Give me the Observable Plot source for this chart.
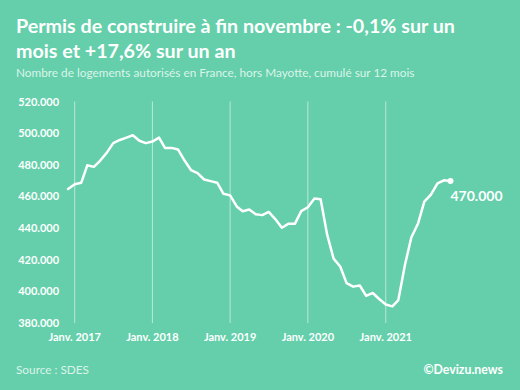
<!DOCTYPE html>
<html>
<head>
<meta charset="utf-8">
<script src="https://cdn.jsdelivr.net/npm/d3@7"></script>
<script src="https://cdn.jsdelivr.net/npm/@observablehq/plot@0.6"></script>
<style>
  html, body { margin: 0; padding: 0; background: #64CFAA; }
  #card { position: relative; width: 520px; height: 390px; background: #64CFAA; overflow: hidden;
          font-family: Lato, "Noto Sans", sans-serif; color: #fff; }
  #title { position: absolute; left: 16px; top: 13px; font-size: 19.7px; font-weight: 700; line-height: 25px; white-space: nowrap; }
  #subtitle { position: absolute; left: 16px; top: 65px; font-size: 11.8px; font-weight: 400; color: rgba(255,255,255,0.78); white-space: nowrap; }
  #chart { position: absolute; left: 0; top: 80px; }
  #source { position: absolute; left: 16px; top: 362px; font-size: 11.8px; font-weight: 400; color: rgba(255,255,255,0.78); }
  #credit { position: absolute; right: 17px; top: 362px; font-size: 12.3px; font-weight: 700; }
</style>
</head>
<body>
<div id="card">
  <div id="title">Permis de construire à fin novembre : -0,1% sur un<br>mois et +17,6% sur un an</div>
  <div id="subtitle">Nombre de logements autorisés en France, hors Mayotte, cumulé sur 12 mois</div>
  <div id="chart"></div>
  <div id="source">Source : SDES</div>
  <div id="credit">©Devizu.news</div>
</div>
<script>
// Permis de construire, cumul sur 12 mois (logements autorisés), décembre 2016 – novembre 2021
const months = [
  "2016-12",
  "2017-01","2017-02","2017-03","2017-04","2017-05","2017-06","2017-07","2017-08","2017-09","2017-10","2017-11","2017-12",
  "2018-01","2018-02","2018-03","2018-04","2018-05","2018-06","2018-07","2018-08","2018-09","2018-10","2018-11","2018-12",
  "2019-01","2019-02","2019-03","2019-04","2019-05","2019-06","2019-07","2019-08","2019-09","2019-10","2019-11","2019-12",
  "2020-01","2020-02","2020-03","2020-04","2020-05","2020-06","2020-07","2020-08","2020-09","2020-10","2020-11","2020-12",
  "2021-01","2021-02","2021-03","2021-04","2021-05","2021-06","2021-07","2021-08","2021-09","2021-10","2021-11"
];
const logements = [
  465000,
  468000, 469000, 480000, 479000, 483000, 488000, 494000, 496000, 497500, 499000, 495500, 494000,
  495000, 497500, 491000, 491000, 490000, 483000, 477000, 475000, 471000, 470000, 469000, 462000,
  461000, 454000, 451000, 452000, 449000, 448500, 450500, 446000, 440500, 443000, 443000, 451000,
  453500, 459000, 458500, 436000, 421000, 416000, 405500, 403300, 404000, 397500, 399300, 395500,
  392000, 390800, 394800, 417000, 434400, 443000, 457000, 461500, 468500, 470500, 470000
];
const yTicks = [380000, 400000, 420000, 440000, 460000, 480000, 500000, 520000];
const xTickMonths = ["2017-01", "2018-01", "2019-01", "2020-01", "2021-01"];
const xTickLabels = ["Janv. 2017", "Janv. 2018", "Janv. 2019", "Janv. 2020", "Janv. 2021"];

const parseMonth = d3.utcParse("%Y-%m");
const fr = d3.formatLocale({decimal: ",", thousands: ".", grouping: [3], currency: ["", " €"]});
const fmt = fr.format(",d");

const data = months.map((m, i) => ({date: parseMonth(m), value: logements[i]}));
const last = data[data.length - 1];
const xTicks = xTickMonths.map(parseMonth);
const labelOf = new Map(xTicks.map((d, i) => [+d, xTickLabels[i]]));

const chart = Plot.plot({
  width: 520,
  height: 270,
  marginLeft: 67.6,
  marginRight: 70,
  marginTop: 21.5,
  marginBottom: 27,
  style: {background: "transparent", color: "#fff", fontFamily: "Lato, 'Noto Sans', sans-serif", fontSize: "11px", fontWeight: 700},
  x: {type: "utc", domain: [data[0].date, last.date], label: null},
  y: {domain: [380000, 520000], label: null},
  marks: [
    Plot.gridX(xTicks, {stroke: "#fff", strokeOpacity: 0.55, strokeWidth: 1}),
    Plot.axisX(xTicks, {tickSize: 0, tickPadding: 10, tickFormat: d => labelOf.get(+d), fill: "#fff", fontWeight: 700, label: null}),
    Plot.axisY(yTicks, {tickSize: 0, tickPadding: 9, tickFormat: fmt, fill: "#fff", fontWeight: 700, label: null}),
    Plot.line(data, {x: "date", y: "value", stroke: "#fff", strokeWidth: 2.5, strokeLinejoin: "round", strokeLinecap: "round"}),
    Plot.dot([last], {x: "date", y: "value", r: 3, fill: "#fff"}),
    Plot.text([last], {x: "date", y: "value", text: d => fmt(d.value), dx: 0, dy: 15, textAnchor: "start", fontSize: 14, fontWeight: 700, fill: "#fff"})
  ]
});
document.getElementById("chart").appendChild(chart);
</script>
</body>
</html>
